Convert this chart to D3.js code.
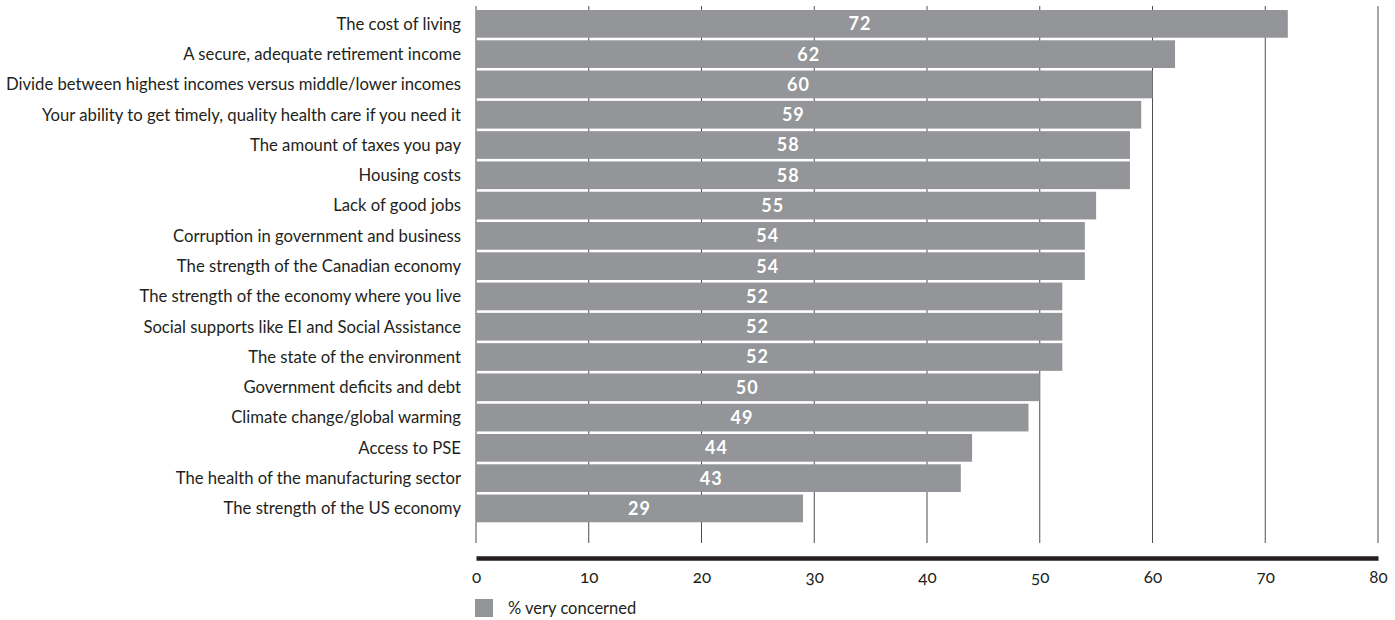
<!DOCTYPE html>
<html>
<head>
<meta charset="utf-8">
<script src="https://cdn.jsdelivr.net/npm/d3@7"></script>
<style>
  html, body { margin: 0; padding: 0; background: #ffffff; }
  svg { display: block; }
  .cat { font-family: Lato, "Open Sans", sans-serif; font-size: 16.7px; fill: #231f20; }
  .val { font-family: Lato, sans-serif; font-size: 18px; font-weight: 700; fill: #ffffff; letter-spacing: 1px; }
  .tick text { font-family: Lato, sans-serif; font-size: 17px; fill: #231f20; font-variant-numeric: oldstyle-nums; font-feature-settings: "onum" 1; }
  .leg { font-family: Lato, sans-serif; font-size: 16.5px; fill: #231f20; }
</style>
</head>
<body>
<svg id="chart" width="1395" height="620"></svg>
<script>
const categories = [
  "The cost of living",
  "A secure, adequate retirement income",
  "Divide between highest incomes versus middle/lower incomes",
  "Your ability to get timely, quality health care if you need it",
  "The amount of taxes you pay",
  "Housing costs",
  "Lack of good jobs",
  "Corruption in government and business",
  "The strength of the Canadian economy",
  "The strength of the economy where you live",
  "Social supports like EI and Social Assistance",
  "The state of the environment",
  "Government deficits and debt",
  "Climate change/global warming",
  "Access to PSE",
  "The health of the manufacturing sector",
  "The strength of the US economy"
];
const values = [72, 62, 60, 59, 58, 58, 55, 54, 54, 52, 52, 52, 50, 49, 44, 43, 29];
const tickValues = [0, 10, 20, 30, 40, 50, 60, 70, 80];
const seriesName = "% very concerned";

const svg = d3.select("#chart");
const x0 = 476, x1 = 1378;
const x = d3.scaleLinear().domain([0, 80]).range([x0, x1]);
const y = d3.scaleBand().domain(categories).range([8.8, 523.5]).paddingInner(0.085).paddingOuter(0.04);

const gridTop = 6, gridBottom = 543;
// gridlines
svg.append("g").selectAll("line").data(tickValues).join("line")
  .attr("x1", d => x(d)).attr("x2", d => x(d))
  .attr("y1", gridTop).attr("y2", gridBottom)
  .attr("stroke", "#4d4d4f").attr("stroke-width", 1);

// bars
svg.append("g").selectAll("rect").data(values).join("rect")
  .attr("x", x(0))
  .attr("y", (d, i) => y(categories[i]))
  .attr("width", d => x(d) - x(0))
  .attr("height", y.bandwidth())
  .attr("fill", "#939598");

// value labels
svg.append("g").selectAll("text").data(values).join("text")
  .attr("class", "val")
  .attr("x", d => x(d * 0.455 + 1.3))
  .attr("y", (d, i) => y(categories[i]) + y.bandwidth() / 2)
  .attr("dy", "0.36em")
  .attr("text-anchor", "middle")
  .text(d => d);

// category labels
svg.append("g").selectAll("text").data(categories).join("text")
  .attr("class", "cat")
  .attr("x", 461)
  .attr("y", d => y(d) + y.bandwidth() / 2)
  .attr("dy", "0.35em")
  .attr("text-anchor", "end")
  .text(d => d);

// axis
const axis = svg.append("g").attr("transform", "translate(0,558)")
  .call(d3.axisBottom(x).tickValues(tickValues).tickSize(0).tickPadding(13).tickFormat(d3.format("d")));
axis.select(".domain").attr("stroke", "#231f20").attr("stroke-width", 4.5);

// legend
svg.append("rect").attr("x", x(0) - 1).attr("y", 599).attr("width", 18).attr("height", 18).attr("fill", "#939598");
svg.append("text").attr("class", "leg").attr("x", x(0) + 32).attr("y", 614).text(seriesName);
</script>
</body>
</html>
